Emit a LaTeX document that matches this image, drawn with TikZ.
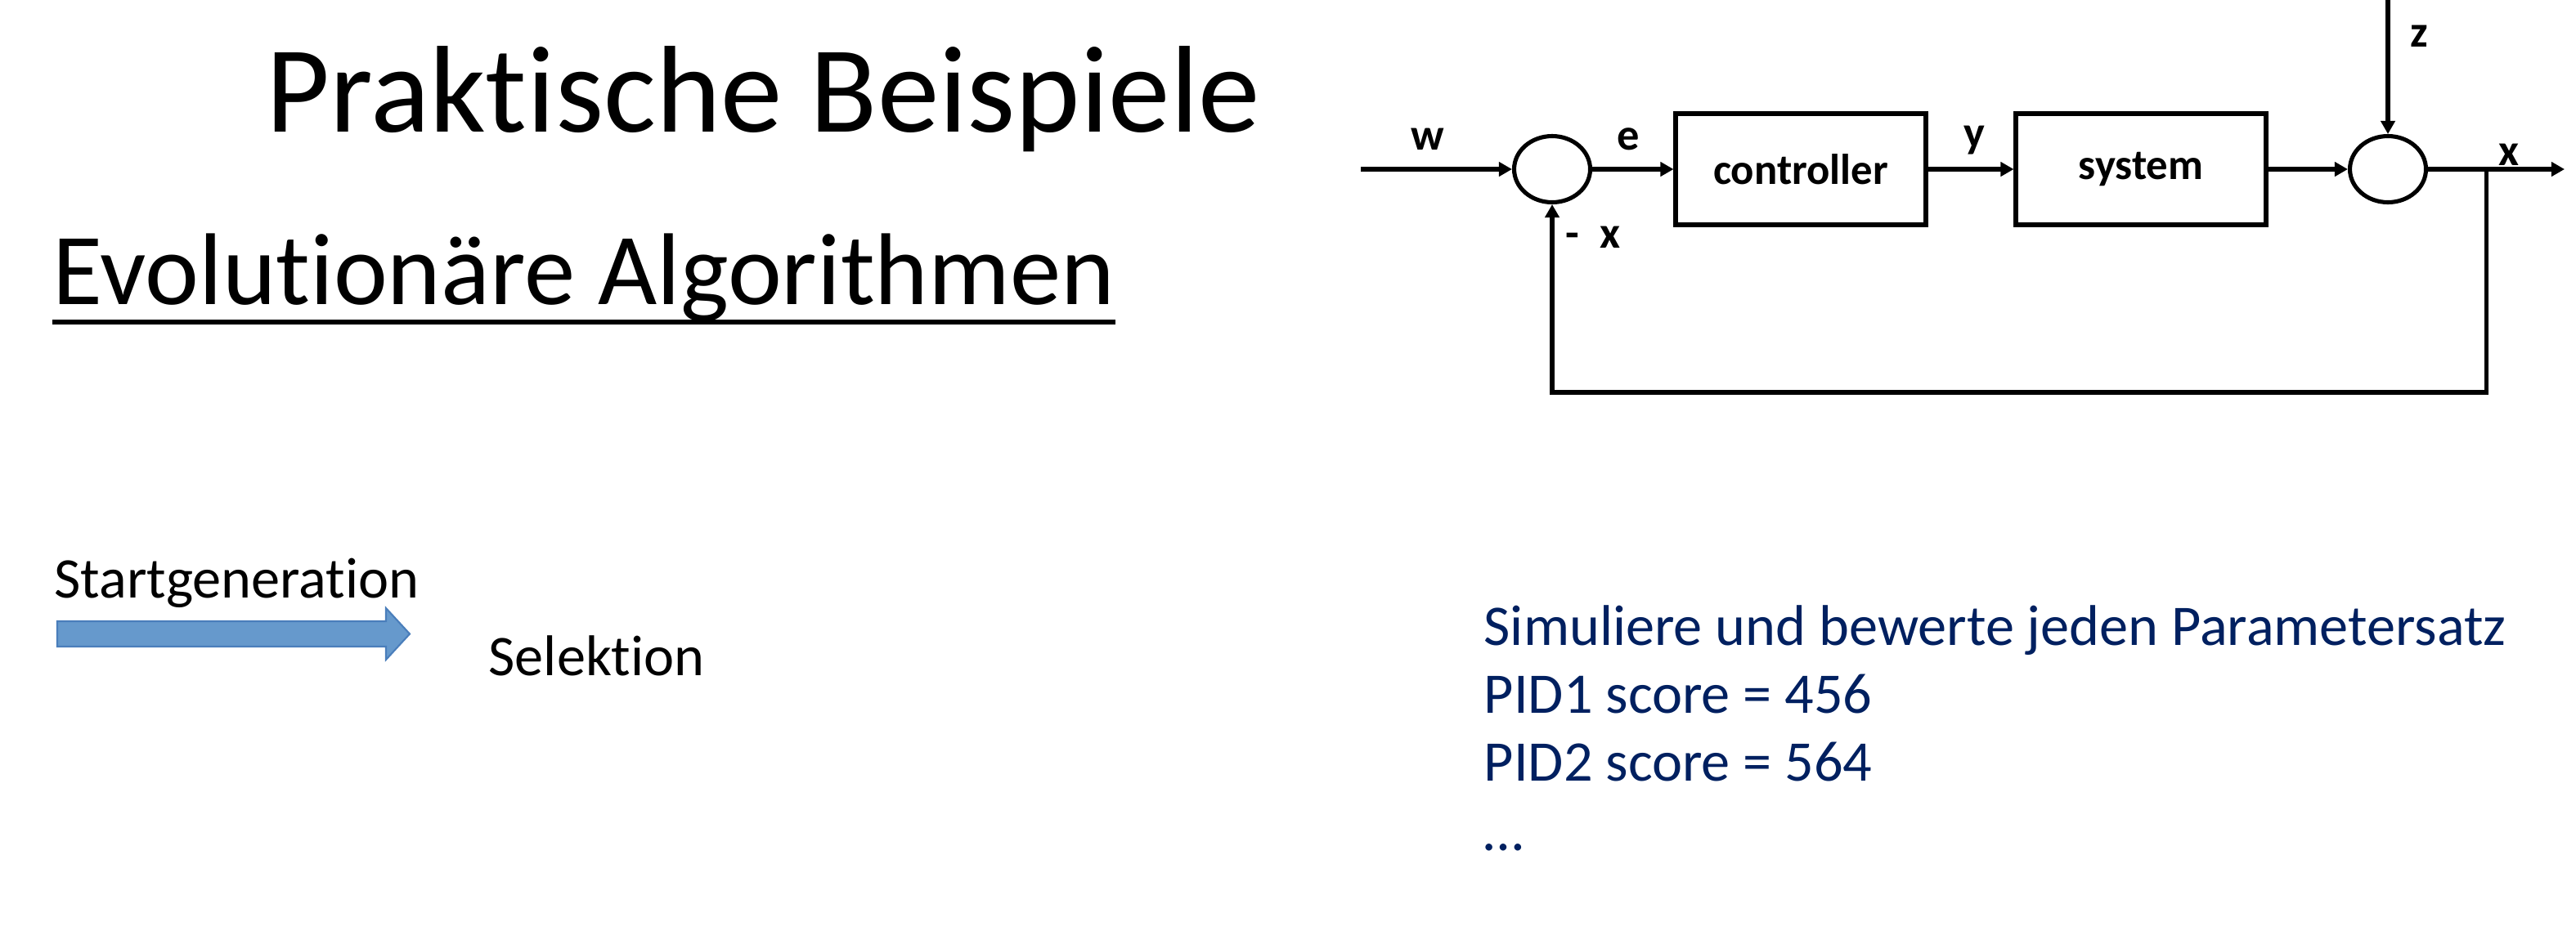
\documentclass[tikz,border=0pt]{standalone}
\usepackage{fontspec}
\setmainfont{Carlito}
\usetikzlibrary{shapes.geometric,arrows.meta}
\definecolor{navytext}{RGB}{0,32,96}
\definecolor{arrowfill}{RGB}{102,153,204}
\definecolor{arrowline}{RGB}{74,126,187}
%% keine ti-Ligatur
\newcommand{\tisep}{\kern0pt\relax}

\begin{document}
\begin{tikzpicture}[
  sig/.style={line width=1.45pt, -{Triangle[length=4.6pt,width=4.9pt]}},
  blk/.style={draw, line width=1.45pt, minimum width=3.06cm, minimum height=1.36cm,
              font=\fontsize{15}{18}\selectfont\bfseries},
  sumpt/.style={draw, ellipse, line width=1.45pt, minimum width=0.93cm,
                minimum height=0.81cm, inner sep=0pt},
  lbl/.style={anchor=base, inner sep=0pt, font=\fontsize{15.5}{18}\selectfont\bfseries},
  bodytxt/.style={anchor=base west, inner sep=0pt, font=\fontsize{20}{24}\selectfont}
]
  \useasboundingbox (0,0) rectangle (31.5,-11.6);

  %% --- Titel ---
  \node[anchor=base west, inner sep=0pt, font=\fontsize{43}{50}\selectfont]
    (titel) at (3.25,-1.61) {Prakt\tisep ische Beispiele};
  \node[anchor=base west, inner sep=0pt, font=\fontsize{35.5}{42}\selectfont]
    (untertitel) at (0.64,-3.72) {Evolut\tisep ionäre Algorithmen};
  \draw[line width=1.5pt] ([yshift=-0.22cm]untertitel.base west)
    -- ([yshift=-0.22cm]untertitel.base east);

  %% --- Regelkreis ---
  \node[sumpt] (sumA) at (18.98,-2.07) {};
  \node[blk] (ctrl) at (22.02,-2.07) {controller};
  \node[blk] (sys) at (26.18,-2.07) {system};
  \node[sumpt] (sumB) at (29.20,-2.07) {};

  \coordinate (win) at (16.64,-2.07);
  \coordinate (xout) at (31.36,-2.07);
  \coordinate (ztop) at (29.20,0);
  \coordinate (branch) at (30.40,-2.07);
  \coordinate (fbbot) at (30.40,-4.80);

  \draw[sig] (win) -- (sumA.west);
  \draw[sig] (sumA.east) -- (ctrl.west);
  \draw[sig] (ctrl.east) -- (sys.west);
  \draw[sig] (sys.east) -- (sumB.west);
  \draw[sig] (sumB.east) -- (xout);
  \draw[sig] (ztop) -- (sumB.north);
  %% Rueckfuehrung
  \draw[sig] (branch) -- (fbbot) -| (sumA.south);

  \node[lbl] (lw) at (17.46,-1.83) {w};
  \node[lbl] (le) at (19.91,-1.83) {e};
  \node[lbl] (ly) at (24.14,-1.80) {y};
  \node[lbl] (lx) at (30.68,-2.02) {x};
  \node[lbl] (lz) at (29.58,-0.57) {z};
  \node[lbl] (lmx) at (19.48,-3.03) {-~~x};

  %% --- Startgeneration mit Blockpfeil ---
  \node[bodytxt] (start) at (0.66,-7.31) {Startgenerat\tisep ion};
  \draw[fill=arrowfill, draw=arrowline, line width=0.6pt]
    (0.70,-7.60) -- (4.72,-7.60) -- (4.72,-7.44) -- (5.01,-7.755)
    -- (4.72,-8.07) -- (4.72,-7.91) -- (0.70,-7.91) -- cycle;
  \node[bodytxt] (selektion) at (5.97,-8.26) {Selekt\tisep ion};

  %% --- Bewertung ---
  \node[bodytxt, text=navytext] (sim) at (18.14,-7.89)
    {Simuliere und bewerte jeden Parametersatz};
  \node[bodytxt, text=navytext] (pid1) at (18.14,-8.72) {PID1 score = 456};
  \node[bodytxt, text=navytext] (pid2) at (18.14,-9.55) {PID2 score = 564};
  \node[bodytxt, text=navytext] (dots) at (18.14,-10.40) {…};
\end{tikzpicture}
\end{document}
